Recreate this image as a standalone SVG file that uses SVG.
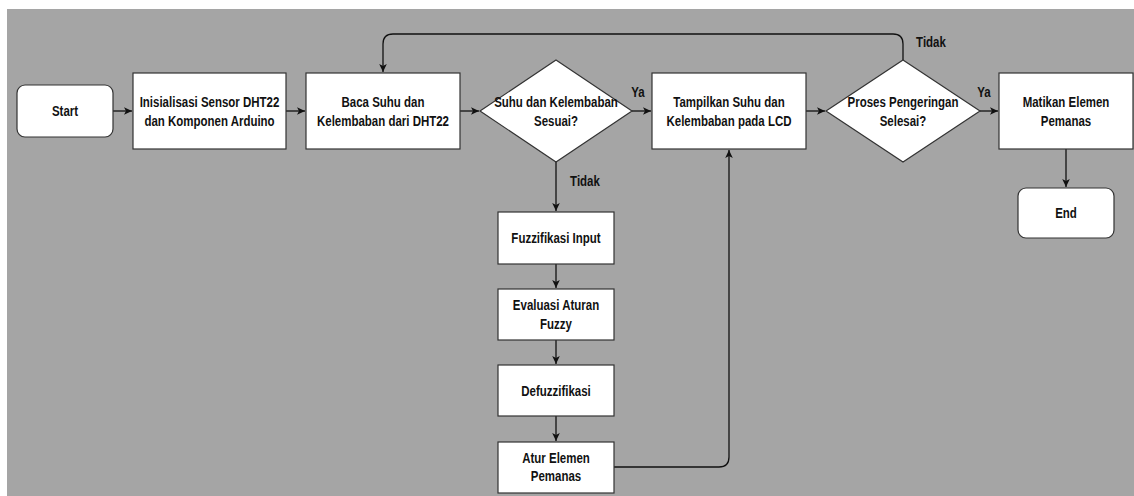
<svg xmlns="http://www.w3.org/2000/svg" width="1134" height="496" viewBox="0 0 1134 496">
<defs>
<style>
.bg{fill:#a5a5a5}
.box{fill:#fff;stroke:#333;stroke-width:1.2}
.edge{fill:none;stroke:#111;stroke-width:1.3}
.t{font-family:"Liberation Sans",Arial,sans-serif;font-weight:bold;font-size:14px;fill:#111;text-anchor:middle}
</style>
<marker id="arr" markerUnits="userSpaceOnUse" markerWidth="10" markerHeight="10" viewBox="0 0 10 10" refX="9" refY="5" orient="auto">
<path d="M1,1.2 L9,5 L1,8.8 L3,5 z" fill="#111"/>
</marker>
</defs>
<rect width="1134" height="496" fill="#fff"/>
<rect class="bg" x="7" y="9" width="1127" height="487"/>

<g id="connectors">
<path class="edge" d="M113,111 H132" marker-end="url(#arr)"/>
<path class="edge" d="M286,111 H305" marker-end="url(#arr)"/>
<path class="edge" d="M460,111 H479" marker-end="url(#arr)"/>
<path class="edge" d="M632,111 H651" marker-end="url(#arr)"/>
<path class="edge" d="M806,111 H825" marker-end="url(#arr)"/>
<path class="edge" d="M980,111 H998" marker-end="url(#arr)"/>
<path class="edge" d="M1066,149 V187" marker-end="url(#arr)"/>
<path class="edge" d="M556,162 V211" marker-end="url(#arr)"/>
<path class="edge" d="M556,264 V288" marker-end="url(#arr)"/>
<path class="edge" d="M556,340 V364" marker-end="url(#arr)"/>
<path class="edge" d="M556,416 V441" marker-end="url(#arr)"/>
<path class="edge" d="M614,467 H719 Q729,467 729,457 V150" marker-end="url(#arr)"/>
<path class="edge" d="M903,60 V44 Q903,34 893,34 H393 Q383,34 383,44 V72" marker-end="url(#arr)"/>
<text class="t" transform="translate(638,96.5) scale(0.82,1)">Ya</text>
<text class="t" transform="translate(984,96.5) scale(0.82,1)">Ya</text>
<text class="t" transform="translate(585,185.5) scale(0.82,1)">Tidak</text>
<text class="t" transform="translate(931,46.5) scale(0.82,1)">Tidak</text>
</g>

<g id="start">
<rect class="box" x="17" y="85" width="96" height="52" rx="8"/>
<text class="t" transform="translate(65,116) scale(0.82,1)">Start</text>
</g>
<g id="init">
<rect class="box" x="133" y="73" width="153" height="76"/>
<text class="t" transform="translate(209.5,106.5) scale(0.82,1)"><tspan x="0" y="0">Inisialisasi Sensor DHT22</tspan><tspan x="0" y="20">dan Komponen Arduino</tspan></text>
</g>
<g id="baca">
<rect class="box" x="306" y="73" width="154" height="76"/>
<text class="t" transform="translate(383,106.5) scale(0.82,1)"><tspan x="0" y="0">Baca Suhu dan</tspan><tspan x="0" y="19.5">Kelembaban dari DHT22</tspan></text>
</g>
<g id="cek">
<path class="box" d="M556,60 L632,111 L556,162 L480,111 Z"/>
<text class="t" transform="translate(556,106.5) scale(0.82,1)"><tspan x="0" y="0">Suhu dan Kelembaban</tspan><tspan x="0" y="19.5">Sesuai?</tspan></text>
</g>
<g id="tampil">
<rect class="box" x="652" y="73" width="154" height="76"/>
<text class="t" transform="translate(729,106.5) scale(0.82,1)"><tspan x="0" y="0">Tampilkan Suhu dan</tspan><tspan x="0" y="19.5">Kelembaban pada LCD</tspan></text>
</g>
<g id="selesai">
<path class="box" d="M903,60 L980,111 L903,162 L826,111 Z"/>
<text class="t" transform="translate(903,106.5) scale(0.82,1)"><tspan x="0" y="0">Proses Pengeringan</tspan><tspan x="0" y="19.5">Selesai?</tspan></text>
</g>
<g id="matikan">
<rect class="box" x="999" y="73" width="134" height="76"/>
<text class="t" transform="translate(1066,106.5) scale(0.82,1)"><tspan x="0" y="0">Matikan Elemen</tspan><tspan x="0" y="19.5">Pemanas</tspan></text>
</g>
<g id="end">
<rect class="box" x="1018" y="188" width="96" height="50" rx="8"/>
<text class="t" transform="translate(1066,218) scale(0.82,1)">End</text>
</g>
<g id="fuzz">
<rect class="box" x="498" y="212" width="116" height="52"/>
<text class="t" transform="translate(556,243) scale(0.82,1)">Fuzzifikasi Input</text>
</g>
<g id="eval">
<rect class="box" x="498" y="289" width="116" height="51"/>
<text class="t" transform="translate(556,310) scale(0.82,1)"><tspan x="0" y="0">Evaluasi Aturan</tspan><tspan x="0" y="19">Fuzzy</tspan></text>
</g>
<g id="defuzz">
<rect class="box" x="498" y="365" width="116" height="51"/>
<text class="t" transform="translate(556,395.5) scale(0.82,1)">Defuzzifikasi</text>
</g>
<g id="atur">
<rect class="box" x="498" y="442" width="116" height="51"/>
<text class="t" transform="translate(556,462.5) scale(0.82,1)"><tspan x="0" y="0">Atur Elemen</tspan><tspan x="0" y="19">Pemanas</tspan></text>
</g>
</svg>
